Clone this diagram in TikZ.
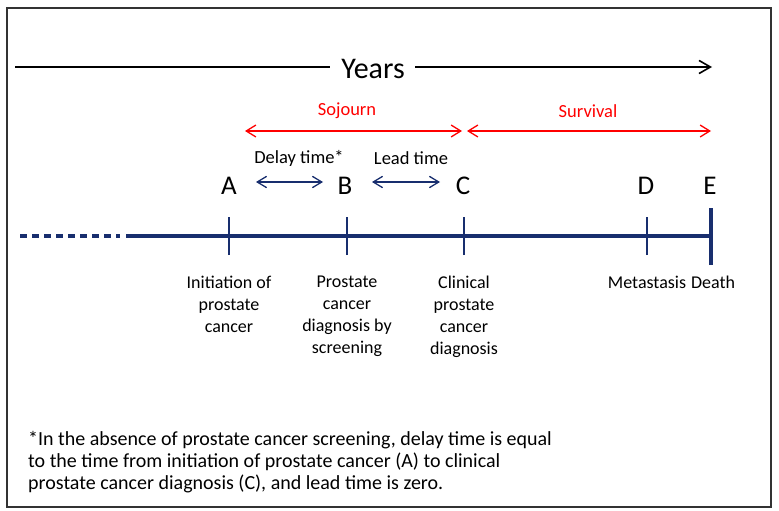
\documentclass[tikz,border=0pt]{standalone}
\usepackage{fontspec}
\setmainfont{Carlito}
\usetikzlibrary{arrows.meta, positioning}

\definecolor{navyline}{RGB}{24,46,110}

\begin{document}
\begin{tikzpicture}[
    x=1pt, y=-1pt,
    letterlab/.style={font=\fontsize{27}{30}\selectfont, inner sep=0pt},
    spanlab/.style={font=\fontsize{18.5}{22}\selectfont, inner sep=0pt},
    eventlab/.style={font=\fontsize{18}{22}\selectfont, align=center, anchor=north, inner sep=0pt},
    tick/.style={navyline, line width=2.4pt},
    redarrow/.style={{Straight Barb[length=3.4mm, width=4.2mm]}-{Straight Barb[length=3.4mm, width=4.2mm]}, red, line width=1.3pt},
    bluearrow/.style={{Straight Barb[length=3.3mm, width=4mm]}-{Straight Barb[length=3.3mm, width=4mm]}, navyline, line width=1.3pt}
]

% frame
\useasboundingbox (0,0) rectangle (779,511);
\draw[line width=1.4pt, black!80] (7,8) rectangle (771,507);

% years axis
\node[font=\fontsize{30}{34}\selectfont, inner sep=0pt] (years) at (373,69) {Years};
\coordinate (ystart) at (15,67);
\coordinate (yleft) at (330,67);
\coordinate (yright) at (415,67);
\coordinate (yend) at (712,67);
\draw[line width=1.6pt] (ystart) -- (yleft);
\draw[-{Straight Barb[length=4mm, width=4.6mm]}, line width=1.6pt] (yright) -- (yend);

% time points on the line
\coordinate (tA) at (229,236);
\coordinate (tB) at (347,236);
\coordinate (tC) at (464,236);
\coordinate (tD) at (647,236);
\coordinate (tE) at (711,236);
\coordinate (dashstart) at (20,236);
\coordinate (dashend) at (120,236);
\coordinate (solidstart) at (126,236);

\draw[navyline, line width=3.6pt, dash pattern=on 7pt off 5pt] (dashstart) -- (dashend);
\draw[navyline, line width=3.6pt] (solidstart) -- (tE);

\foreach \p in {tA,tB,tC,tD}
    \draw[tick] ([yshift=-19pt]\p) -- ([yshift=19pt]\p);
\draw[navyline, line width=3.8pt] ([yshift=-29pt]tE) -- ([yshift=28pt]tE);

% letters
\node[letterlab] (A) at (229,186) {A};
\node[letterlab] (B) at (345,186) {B};
\node[letterlab] (C) at (463,186) {C};
\node[letterlab] (D) at (646,186) {D};
\node[letterlab] (E) at (710,186) {E};

% delay and lead time
\node[spanlab] (delay) at (299,158) {Delay time*};
\node[spanlab] (lead) at (411,158) {Lead time};
\coordinate (dl1) at (256,182);
\coordinate (dl2) at (323,182);
\coordinate (ld1) at (372,182);
\coordinate (ld2) at (440,182);
\draw[bluearrow] (dl1) -- (dl2);
\draw[bluearrow] (ld1) -- (ld2);

% sojourn and survival
\node[spanlab, red] (sojourn) at (347,111) {Sojourn};
\node[spanlab, red] (survival) at (588,111) {Survival};
\coordinate (sojA) at (245,131);
\coordinate (sojC) at (462,131);
\coordinate (survC) at (467,131);
\coordinate (survE) at (711,131);
\draw[redarrow] (sojA) -- (sojC);
\draw[redarrow] (survC) -- (survE);

% event labels
\node[eventlab] (initiation) at (229,276) {Initiation of\\prostate\\cancer};
\node[eventlab] (screendx) at (347,276) {Prostate\\cancer\\diagnosis by\\screening};
\node[eventlab] (clinicaldx) at (464,276) {Clinical\\prostate\\cancer\\diagnosis};
\node[eventlab] (metastasis) at (647,276) {Metastasis};
\node[eventlab] (death) at (713,276) {Death};

% footnote
\node[font=\fontsize{20}{22}\selectfont, align=left, anchor=north west, inner sep=0pt] (note) at (28,431)
    {*In the absence of prostate cancer screening, delay time is equal\\
     to the time from initiation of prostate cancer (A) to clinical\\
     prostate cancer diagnosis (C), and lead time is zero.};

\end{tikzpicture}
\end{document}
